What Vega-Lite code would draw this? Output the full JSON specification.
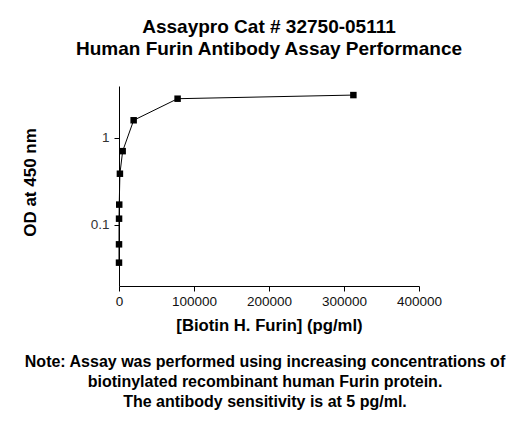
{
  "$schema": "https://vega.github.io/schema/vega-lite/v6.json",
  "background": "white",
  "padding": {"left": 20, "top": 18, "right": 10, "bottom": 10},
  "config": {
    "font": "Liberation Sans",
    "view": {"stroke": null}
  },
  "title": {
    "text": ["Assaypro Cat # 32750-05111", "Human Furin Antibody Assay Performance"],
    "fontSize": 19,
    "fontWeight": "bold",
    "lineHeight": 22,
    "color": "black",
    "anchor": "middle",
    "frame": "group",
    "offset": 27
  },
  "vconcat": [
    {
      "width": 300,
      "height": 200,
      "title": {
        "text": [
          "Note: Assay was performed using increasing concentrations of",
          "biotinylated recombinant human Furin protein.",
          "The antibody sensitivity is at 5 pg/ml."
        ],
        "orient": "bottom",
        "fontSize": 16,
        "fontWeight": "bold",
        "lineHeight": 20,
        "color": "black",
        "anchor": "middle",
        "frame": "group",
        "dx": -4,
        "offset": 20
      },
      "data": {
        "values": [
          {"conc": 5, "od": 0.037},
          {"conc": 19, "od": 0.060},
          {"conc": 76, "od": 0.118},
          {"conc": 305, "od": 0.171},
          {"conc": 1221, "od": 0.386},
          {"conc": 4883, "od": 0.70},
          {"conc": 19531, "od": 1.58},
          {"conc": 78125, "od": 2.79},
          {"conc": 312500, "od": 3.07}
        ]
      },
      "encoding": {
        "x": {
          "field": "conc",
          "type": "quantitative",
          "title": "[Biotin H. Furin] (pg/ml)",
          "scale": {"domain": [0, 400000], "nice": false},
          "axis": {
            "values": [0, 100000, 200000, 300000, 400000],
            "format": "d",
            "grid": false,
            "domainColor": "black",
            "tickColor": "black",
            "tickSize": 5,
            "labelFontSize": 13.5,
            "labelColor": "#111",
            "labelPadding": 3,
            "labelFlush": false,
            "titleFontSize": 16.7,
            "titleFontWeight": "bold",
            "titleColor": "black",
            "titleBaseline": "alphabetic",
            "titleY": 44
          }
        },
        "y": {
          "field": "od",
          "type": "quantitative",
          "title": "OD at 450 nm",
          "scale": {"type": "log", "domain": [0.02, 3.9], "nice": false},
          "axis": {
            "values": [0.1, 1],
            "format": ".1~f",
            "grid": false,
            "domainColor": "black",
            "tickColor": "black",
            "tickSize": 5,
            "labelFontSize": 13.5,
            "labelColor": "#333",
            "labelPadding": 5,
            "titleFontSize": 17,
            "titleFontWeight": "bold",
            "titleColor": "black",
            "titleBaseline": "alphabetic",
            "titleX": -84,
            "titleY": 96
          }
        }
      },
      "layer": [
        {"mark": {"type": "line", "color": "black", "strokeWidth": 1}},
        {"mark": {"type": "square", "color": "black", "filled": true, "opacity": 1, "size": 42}}
      ]
    }
  ]
}
